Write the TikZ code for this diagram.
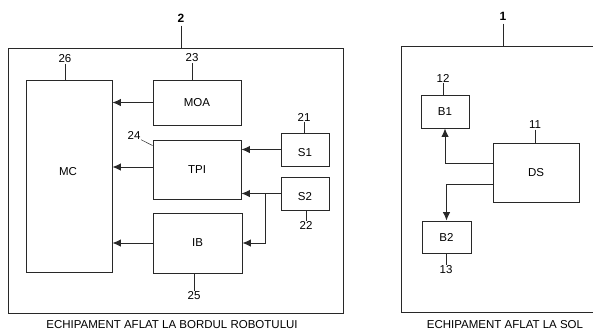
\documentclass[tikz,border=0pt]{standalone}
\usepackage{fontspec}
\setmainfont{Liberation Sans}
\usetikzlibrary{arrows.meta}
\definecolor{ink}{RGB}{40,40,40}
\begin{document}
\begin{tikzpicture}[x=1pt,y=-1pt,
  every node/.style={font=\fontsize{11.5}{13}\selectfont, text=black},
  blk/.style={draw=ink, line width=0.9pt, inner sep=0pt, rectangle},
  frame/.style={draw=ink, line width=0.9pt},
  lab/.style={inner sep=0.5pt},
  tick/.style={draw=ink, line width=0.5pt},
  arr/.style={draw=ink, line width=1pt, -{Latex[length=8.5pt,width=7.5pt]}}]
\useasboundingbox (0,0) rectangle (593,333);
% frames
\node[blk, minimum width=335pt, minimum height=265pt] (box2) at (175.5,180.5) {};
\draw[frame] (593,46) -- (401,46) -- (401,312) -- (593,312);
\coordinate (top1) at (503,46);
% onboard blocks
\node[blk, minimum width=86pt, minimum height=192pt] (MC) at (69,176) {};
\node at (68,172) {MC};
\node[blk, minimum width=88pt, minimum height=45pt] (MOA) at (197,102.5) {MOA};
\node[blk, minimum width=88pt, minimum height=59pt] (TPI) at (197,169.5) {TPI};
\node[blk, minimum width=89pt, minimum height=60pt] (IB) at (197.5,243) {IB};
\node[blk, minimum width=48pt, minimum height=33pt] (S1) at (305,149.5) {};
\node at (305,153) {S1};
\node[blk, minimum width=48pt, minimum height=33pt] (S2) at (305,193.5) {};
\node at (305,197) {S2};
% ground blocks
\node[blk, minimum width=48pt, minimum height=33pt] (B1) at (445,111.5) {B1};
\node[blk, minimum width=86pt, minimum height=59pt] (DS) at (536,172.5) {DS};
\node[blk, minimum width=49pt, minimum height=32pt] (B2) at (446.5,237) {B2};
% connectors onboard
\draw[arr] (MOA.west) -- (MOA.west -| MC.east);
\draw[arr] ([yshift=2.5pt]TPI.west) -- ([yshift=2.5pt]TPI.west -| MC.east);
\draw[arr] (IB.west) -- (IB.west -| MC.east);
\draw[arr] (S1.west) -- (S1.west -| TPI.east);
\coordinate (j) at (265,193.5);
\draw[arr] (S2.west) -- (S2.west -| TPI.east);
\draw[arr] (j) |- (IB.east);
% connectors ground
\draw[arr] ([yshift=9.5pt]DS.west) -| (B1.south);
\draw[arr] ([yshift=-11.5pt]DS.west) -| (B2.north);
% reference numerals
\node[font=\bfseries\fontsize{12}{14}\selectfont] (l2) at (181,18) {2};
\draw[tick] (l2.south) -- (l2.south |- box2.north);
\node[font=\bfseries\fontsize{12}{14}\selectfont] (l1) at (503,16) {1};
\draw[tick] (l1.south) -- (top1);
\node[lab] (l26) at (65,59) {26};
\draw[tick] (l26.south) -- (l26.south |- MC.north);
\node[lab] (l23) at (192,58) {23};
\draw[tick] (l23.south) -- (l23.south |- MOA.north);
\node[lab] (l24) at (134,135) {24};
\draw[tick] (l24.south east) -- ([yshift=-6pt]TPI.north west);
\node[lab] (l25) at (194,296) {25};
\draw[tick] (l25.north |- IB.south) -- (l25.north);
\node[lab] (l21) at (304,117) {21};
\draw[tick] (l21.south) -- (l21.south |- S1.north);
\node[lab] (l22) at (306,225.5) {22};
\draw[tick] (l22.north |- S2.south) -- (l22.north);
\node[lab] (l12) at (443,78) {12};
\draw[tick] (l12.south) -- (l12.south |- B1.north);
\node[lab] (l11) at (535,125) {11};
\draw[tick] (l11.south) -- (l11.south |- DS.north);
\node[lab] (l13) at (446,270) {13};
\draw[tick] (l13.north |- B2.south) -- (l13.north);
% captions
\node (cap2) at (172,325) {ECHIPAMENT AFLAT LA BORDUL ROBOTULUI};
\node (cap1) at (505,325) {ECHIPAMENT AFLAT LA SOL};
\end{tikzpicture}
\end{document}
